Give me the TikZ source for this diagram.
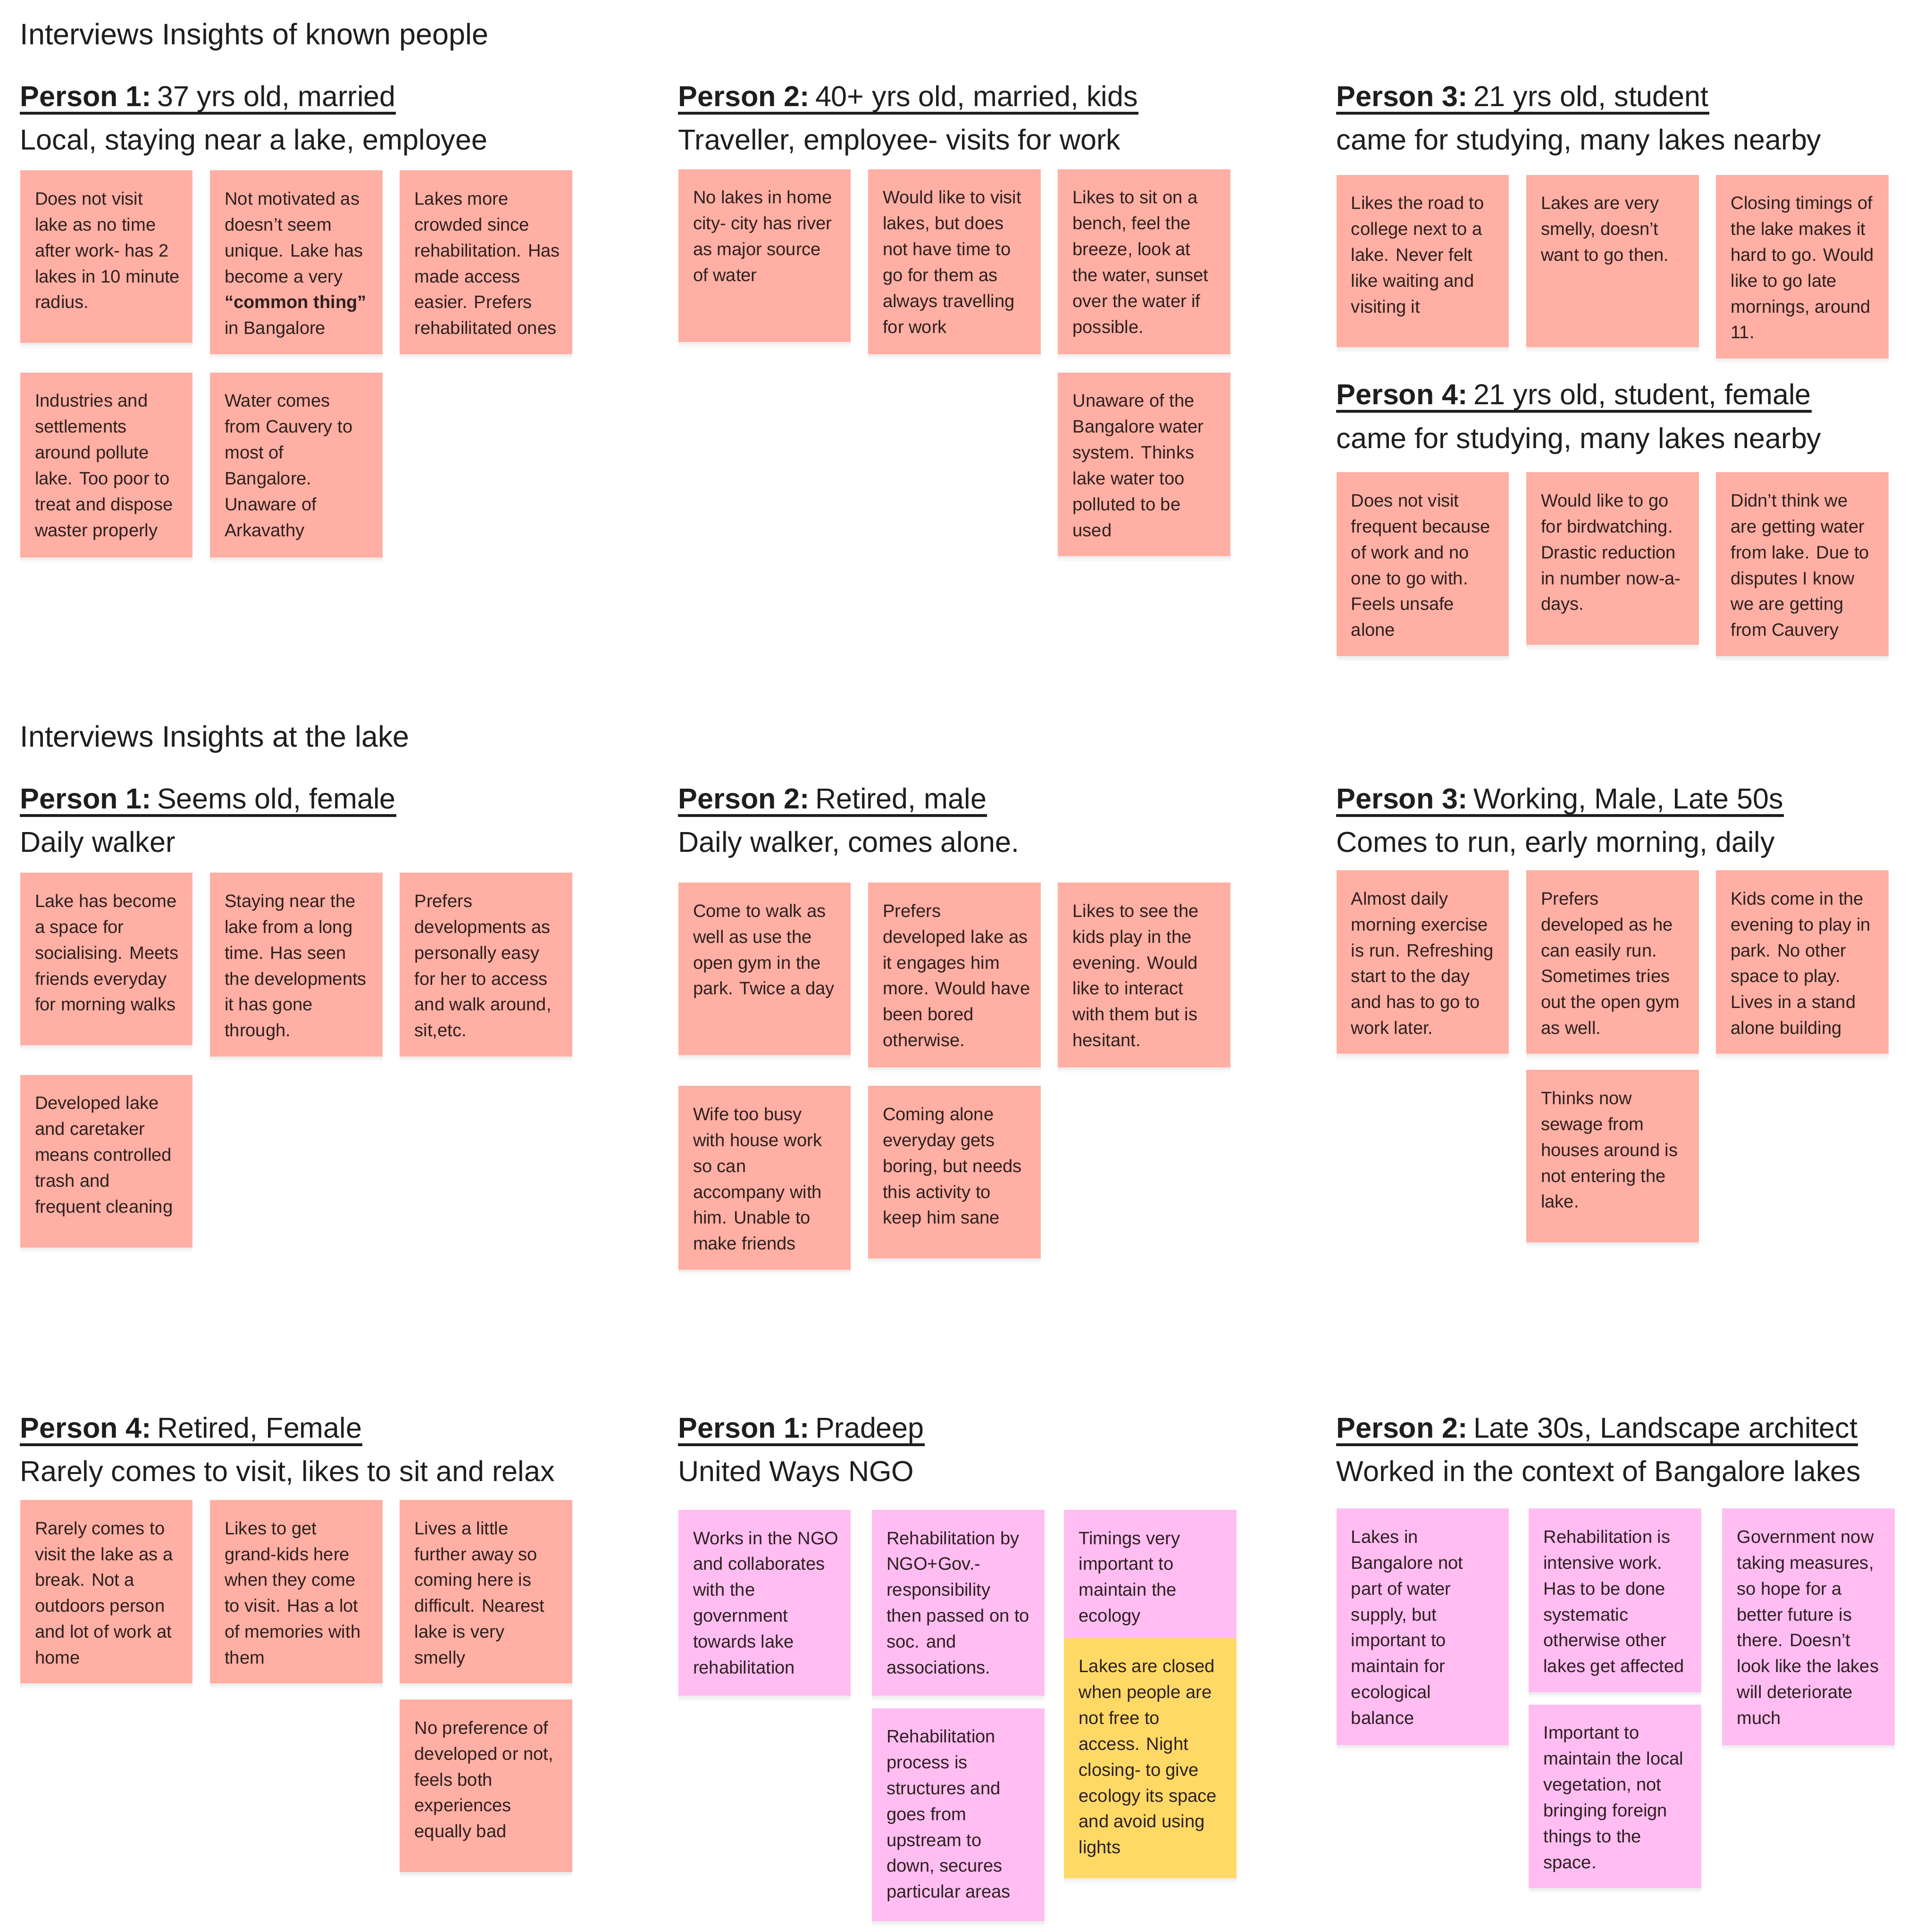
\documentclass[tikz,border=0pt]{standalone}
\usepackage{fontspec}
\setmainfont{Liberation Sans}
\usetikzlibrary{shadows}
\definecolor{Ink}{HTML}{1E1E1E}
\definecolor{NoteInk}{HTML}{2E2020}
\definecolor{Salmon}{HTML}{FFAFA3}
\definecolor{Blush}{HTML}{FFBDF2}
\definecolor{Butter}{HTML}{FFD966}
\newlength\pxu
\setlength\pxu{0.02cm}
\tikzset{
  board/.style={x=0.02cm,y=-0.02cm},
  hdr/.style={anchor=base west,inner sep=0pt,font=\fontsize{13.3}{16}\selectfont,text=Ink},
  sectitle/.style={hdr,font=\fontsize{13.7}{16}\selectfont},
  uline/.style={draw=Ink,line width=1.3pt},
  sticky/.style={anchor=north west,inner xsep=12\pxu,inner ysep=13.3\pxu,font=\fontsize{8.3}{11.95}\selectfont,text=NoteInk,
    drop shadow={shadow xshift=0pt,shadow yshift=-4\pxu,opacity=0.05},
    drop shadow={shadow xshift=0pt,shadow yshift=-2\pxu,opacity=0.07}}
}
\newcommand\sticky[6][Salmon]{%
  \node[sticky,fill=#1] (#2) at (#3,#4) {\parbox[t][\dimexpr#5\pxu-26.6\pxu\relax][t]{116\pxu}{\begin{tabular}[t]{@{}l@{}}#6\end{tabular}}};}
\newcommand\persona[6]{%
  \node[hdr] (#1) at (#2,#3) {\textbf{Person #4:}\hspace{0.2em}#5};
  \draw[uline] ([yshift=-5.4\pxu]#1.base west) -- ([yshift=-5.4\pxu]#1.base east);
  \node[hdr] (#1s) at ([yshift=-35.3\pxu]#1.base west) {#6};}

\begin{document}
\begin{tikzpicture}[board]
  \useasboundingbox[fill=white] (0,0) rectangle (1547,1568);

  \node[sectitle] (known) at (16,36.3) {Interviews Insights of known people};
  \persona{kp1}{16}{86.4}{1}{37 yrs old, married}{Local, staying near a lake, employee}
  \persona{kp2}{550}{86.4}{2}{40+ yrs old, married, kids}{Traveller, employee- visits for work}
  \persona{kp3}{1084}{86.4}{3}{21 yrs old, student}{came for studying, many lakes nearby}
  \persona{kp4}{1084}{328.4}{4}{21 yrs old, student, female}{came for studying, many lakes nearby}

  \sticky{k1a}{16}{138}{140}{Does not visit\\lake as no time\\after work- has 2\\lakes in 10 minute\\radius.}
  \sticky{k1b}{170}{138}{149}{Not motivated as\\doesn’t seem\\unique. Lake has\\become a very\\\textbf{“common thing”}\\in Bangalore}
  \sticky{k1c}{324}{138}{149}{Lakes more\\crowded since\\rehabilitation. Has\\made access\\easier. Prefers\\rehabilitated ones}
  \sticky{k1d}{16}{302}{150}{Industries and\\settlements\\around pollute\\lake. Too poor to\\treat and dispose\\waster properly}
  \sticky{k1e}{170}{302}{150}{Water comes\\from Cauvery to\\most of\\Bangalore.\\Unaware of\\Arkavathy}

  \sticky{k2a}{550}{137}{140}{No lakes in home\\city- city has river\\as major source\\of water}
  \sticky{k2b}{704}{137}{150}{Would like to visit\\lakes, but does\\not have time to\\go for them as\\always travelling\\for work}
  \sticky{k2c}{858}{137}{150}{Likes to sit on a\\bench, feel the\\breeze, look at\\the water, sunset\\over the water if\\possible.}
  \sticky{k2d}{858}{302}{149}{Unaware of the\\Bangalore water\\system. Thinks\\lake water too\\polluted to be\\used}

  \sticky{k3a}{1084}{141.5}{140}{Likes the road to\\college next to a\\lake. Never felt\\like waiting and\\visiting it}
  \sticky{k3b}{1238}{141.5}{140}{Lakes are very\\smelly, doesn’t\\want to go then.}
  \sticky{k3c}{1392}{141.5}{149}{Closing timings of\\the lake makes it\\hard to go. Would\\like to go late\\mornings, around\\11.}

  \sticky{k4a}{1084}{383}{149}{Does not visit\\frequent because\\of work and no\\one to go with.\\Feels unsafe\\alone}
  \sticky{k4b}{1238}{383}{140}{Would like to go\\for birdwatching.\\Drastic reduction\\in number now-a-\\days.}
  \sticky{k4c}{1392}{383}{149}{Didn’t think we\\are getting water\\from lake. Due to\\disputes I know\\we are getting\\from Cauvery}

  \node[sectitle] (atlake) at (16,606) {Interviews Insights at the lake};
  \persona{lp1}{16}{656.4}{1}{Seems old, female}{Daily walker}
  \persona{lp2}{550}{656.4}{2}{Retired, male}{Daily walker, comes alone.}
  \persona{lp3}{1084}{656.4}{3}{Working, Male, Late 50s}{Comes to run, early morning, daily}

  \sticky{l1a}{16}{708}{140}{Lake has become\\a space for\\socialising. Meets\\friends everyday\\for morning walks}
  \sticky{l1b}{170}{708}{149}{Staying near the\\lake from a long\\time. Has seen\\the developments\\it has gone\\through.}
  \sticky{l1c}{324}{708}{149}{Prefers\\developments as\\personally easy\\for her to access\\and walk around,\\sit,etc.}
  \sticky{l1d}{16}{872}{140}{Developed lake\\and caretaker\\means controlled\\trash and\\frequent cleaning}

  \sticky{l2a}{550}{716}{140}{Come to walk as\\well as use the\\open gym in the\\park. Twice a day}
  \sticky{l2b}{704}{716}{150}{Prefers\\developed lake as\\it engages him\\more. Would have\\been bored\\otherwise.}
  \sticky{l2c}{858}{716}{150}{Likes to see the\\kids play in the\\evening. Would\\like to interact\\with them but is\\hesitant.}
  \sticky{l2d}{550}{881}{149}{Wife too busy\\with house work\\so can\\accompany with\\him. Unable to\\make friends}
  \sticky{l2e}{704}{881}{140}{Coming alone\\everyday gets\\boring, but needs\\this activity to\\keep him sane}

  \sticky{l3a}{1084}{706}{149}{Almost daily\\morning exercise\\is run. Refreshing\\start to the day\\and has to go to\\work later.}
  \sticky{l3b}{1238}{706}{149}{Prefers\\developed as he\\can easily run.\\Sometimes tries\\out the open gym\\as well.}
  \sticky{l3c}{1392}{706}{149}{Kids come in the\\evening to play in\\park. No other\\space to play.\\Lives in a stand\\alone building}
  \sticky{l3d}{1238}{868}{140}{Thinks now\\sewage from\\houses around is\\not entering the\\lake.}

  \persona{lp4}{16}{1167}{4}{Retired, Female}{Rarely comes to visit, likes to sit and relax}
  \persona{ep1}{550}{1167}{1}{Pradeep}{United Ways NGO}
  \persona{ep2}{1084}{1167}{2}{Late 30s, Landscape architect}{Worked in the context of Bangalore lakes}

  \sticky{l4a}{16}{1217}{149}{Rarely comes to\\visit the lake as a\\break. Not a\\outdoors person\\and lot of work at\\home}
  \sticky{l4b}{170}{1217}{149}{Likes to get\\grand-kids here\\when they come\\to visit. Has a lot\\of memories with\\them}
  \sticky{l4c}{324}{1217}{149}{Lives a little\\further away so\\coming here is\\difficult. Nearest\\lake is very\\smelly}
  \sticky{l4d}{324}{1379}{140}{No preference of\\developed or not,\\feels both\\experiences\\equally bad}

  \sticky[Blush]{e1a}{550}{1225}{151}{Works in the NGO\\and collaborates\\with the\\government\\towards lake\\rehabilitation}
  \sticky[Blush]{e1b}{707}{1225}{151}{Rehabilitation by\\NGO+Gov.-\\responsibility\\then passed on to\\soc. and\\associations.}
  \sticky[Blush]{e1c}{863}{1225}{104}{Timings very\\important to\\maintain the\\ecology}
  \sticky[Butter]{e1d}{863}{1329}{195}{Lakes are closed\\when people are\\not free to\\access. Night\\closing- to give\\ecology its space\\and avoid using\\lights}
  \sticky[Blush]{e1e}{707}{1386}{173}{Rehabilitation\\process is\\structures and\\goes from\\upstream to\\down, secures\\particular areas}

  \sticky[Blush]{e2a}{1084}{1224}{192}{Lakes in\\Bangalore not\\part of water\\supply, but\\important to\\maintain for\\ecological\\balance}
  \sticky[Blush]{e2b}{1240}{1224}{149}{Rehabilitation is\\intensive work.\\Has to be done\\systematic\\otherwise other\\lakes get affected}
  \sticky[Blush]{e2c}{1397}{1224}{192}{Government now\\taking measures,\\so hope for a\\better future is\\there. Doesn’t\\look like the lakes\\will deteriorate\\much}
  \sticky[Blush]{e2d}{1240}{1383}{149}{Important to\\maintain the local\\vegetation, not\\bringing foreign\\things to the\\space.}
\end{tikzpicture}
\end{document}
